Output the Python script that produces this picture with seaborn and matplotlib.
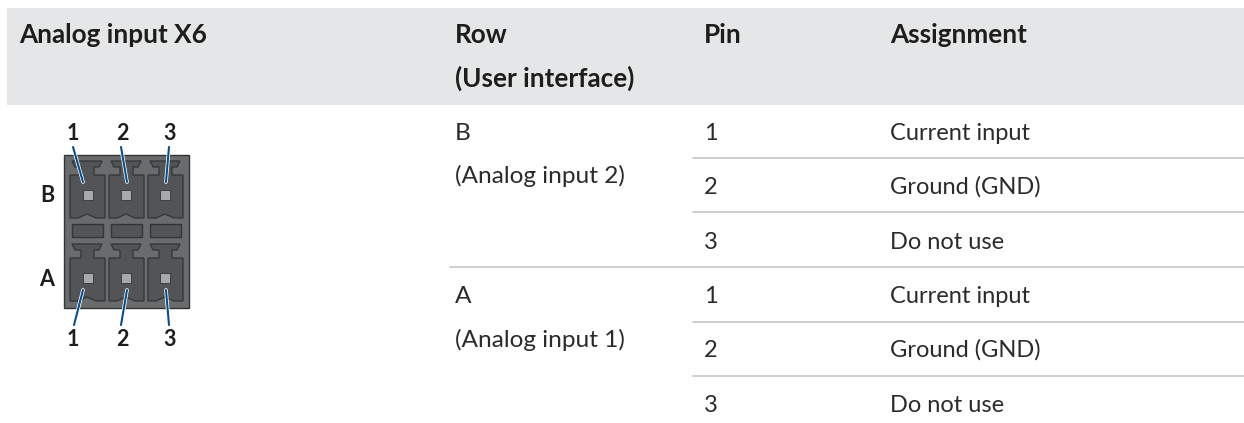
import matplotlib
matplotlib.use('Agg')
import matplotlib.pyplot as plt
from matplotlib.patches import Rectangle, Polygon
import pandas as pd
import seaborn as sns

# table content
headers = ['Analog input X6', 'Row', '(User interface)', 'Pin', 'Assignment']
row_labels = ['B', '(Analog input 2)', 'A', '(Analog input 1)']
pins = ['1', '2', '3', '1', '2', '3']
assignments = ['Current input', 'Ground (GND)', 'Do not use',
               'Current input', 'Ground (GND)', 'Do not use']
connector_rows = ['B', 'A']
connector_pins = ['1', '2', '3']

W, H = 1244, 423
BLUE = '#0b4f8a'
BODY = '#6a6b6d'
CELL = '#535456'
EDGE = '#333436'
TEXT = '#1d1d1b'
BODY_TEXT = '#2b2b2a'
HEAD_SIZE = 18.8
BODY_SIZE = 17

sns.set_theme(style='white')
plt.rcParams['font.family'] = ['Lato', 'DejaVu Sans']

fig = plt.figure(figsize=(W / 100, H / 100), dpi=100)
ax = fig.add_axes([0, 0, 1, 1])
ax.set_xlim(0, W)
ax.set_ylim(H, 0)
ax.axis('off')

# header band
ax.add_patch(Rectangle((7, 8), W - 7, 97, color='#e5e6e8', lw=0))
head_pos = [(19, 43), (455, 43), (455, 87), (704, 43), (890, 43)]
for (x, y), t in zip(head_pos, headers):
    ax.text(x, y, t, fontsize=HEAD_SIZE, fontweight='bold', color=TEXT, va='baseline')

# row rules
for y in [158, 212, 322, 376]:
    ax.plot([693, W], [y, y], color='#c6c7c9', lw=1.2)
ax.plot([450, W], [267, 267], color='#c6c7c9', lw=1.2)

# body rows
row_y = [140, 194, 249, 303, 357, 412]
for y, p, a in zip(row_y, pins, assignments):
    ax.text(704, y, p, fontsize=BODY_SIZE, color=BODY_TEXT, va='baseline')
    ax.text(890, y, a, fontsize=BODY_SIZE, color=BODY_TEXT, va='baseline')
for y, t in zip([140, 183, 303, 347], row_labels):
    ax.text(455, y, t, fontsize=17.6, color=BODY_TEXT, va='baseline')

# connector body
ax.add_patch(Rectangle((64, 155), 125, 153, fc=BODY, ec=EDGE, lw=1))
cell_x = [70, 109, 148]
for x in cell_x:
    for top in [175, 258]:
        bottom = top + 43
        # latch tab plus pin cell, in one outline
        ax.add_patch(Polygon([(x + 2, top - 14), (x + 32, top - 14), (x + 29, top - 8),
                              (x + 24, top - 8), (x + 24, top), (x + 35, top),
                              (x + 35, bottom), (x + 26, bottom), (x + 17, bottom - 4),
                              (x + 8, bottom), (x, bottom), (x, top), (x + 11, top),
                              (x + 11, top - 8), (x + 5, top - 8)],
                             closed=True, fc=CELL, ec=EDGE, lw=0.9))
    ax.add_patch(Rectangle((x + 2, 224), 31, 13, fc=CELL, ec=EDGE, lw=1))

# pin squares
squares = pd.DataFrame({
    'x': [88, 126, 165, 88, 126, 165],
    'y': [195, 195, 195, 278, 278, 278],
})
sns.scatterplot(data=squares, x='x', y='y', marker='s', s=62, color='#a8a9ab',
                edgecolor=EDGE, linewidth=0.6, ax=ax, zorder=4, legend=False)
ax.set_xlim(0, W)
ax.set_ylim(H, 0)
ax.axis('off')

# leader lines
leaders = [((73, 147), (83, 182)), ((121, 147), (127, 182)), ((169, 147), (166, 182)),
           ((83, 290), (74, 325)), ((127, 290), (121, 325)), ((166, 290), (169, 325))]
for a, b in leaders:
    ax.plot([a[0], b[0]], [a[1], b[1]], color='white', lw=2.6, zorder=5, solid_capstyle='round')
    ax.plot([a[0], b[0]], [a[1], b[1]], color=BLUE, lw=1.5, zorder=6)

# connector labels
for x, p in zip([73, 122, 170], connector_pins):
    ax.text(x, 134, p, fontsize=15.5, fontweight='bold', color=TEXT, ha='center', va='center')
    ax.text(x, 340, p, fontsize=15.5, fontweight='bold', color=TEXT, ha='center', va='center')
for y, r in zip([195, 279], connector_rows):
    ax.text(47, y, r, fontsize=15.5, fontweight='bold', color=TEXT, ha='center', va='center')

fig.savefig('out.png', dpi=100)
